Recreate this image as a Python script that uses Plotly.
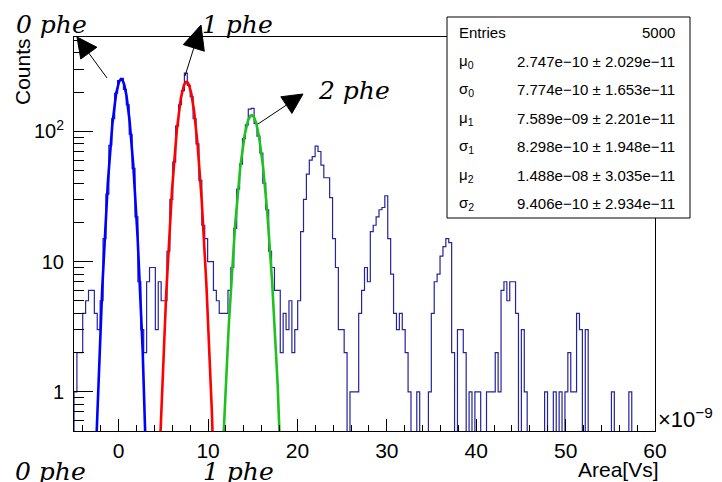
import numpy as np
import plotly.graph_objects as go

# ---- histogram of pulse area (x in units of 1e-9 Vs) ----
area_min = -5.0
area_max = 60.0
n_bins = 200
counts = [
    1, 2, 2, 4, 5, 6, 6, 4, 3, 5,
    15, 33, 78, 125, 196, 245, 255, 210, 160, 95,
    52, 22, 7, 3, 2, 7, 9, 9, 3, 7,
    5, 5, 12, 30, 58, 110, 160, 205, 280, 225,
    185, 125, 80, 42, 19, 15, 10, 10, 6, 5,
    4, 4, 4, 6, 9, 18, 36, 56, 88, 112,
    148, 150, 115, 92, 68, 40, 25, 12, 9, 6,
    6, 2, 4, 3, 5, 2, 3, 5, 17, 30,
    47, 60, 64, 77, 70, 55, 44, 44, 31, 15,
    9, 3, 3, 2, 0, 1, 1, 1, 4, 6,
    9, 7, 17, 19, 22, 25, 26, 32, 15, 8,
    4, 3, 4, 3, 2, 1, 0, 0, 1, 0,
    0, 0, 1, 4, 7, 8, 11, 13, 15, 14,
    2, 0, 3, 3, 2, 0, 1, 0, 1, 1,
    0, 0, 1, 1, 1, 2, 1, 6, 7, 5,
    7, 7, 4, 0, 3, 1, 0, 0, 0, 0,
    0, 0, 1, 0, 0, 1, 0, 1, 0, 1,
    2, 1, 1, 4, 3, 0, 3, 0, 0, 0,
    0, 0, 0, 0, 0, 1, 0, 0, 0, 0,
    0, 1, 0, 0, 0, 0, 0, 0, 0, 0,
]
entries = 5000
x_unit = 1e-9

# ---- Gaussian fits of the 0, 1 and 2 phe peaks (values in Vs) ----
fit_mu = [2.747e-10, 7.589e-09, 1.488e-08]
fit_mu_err = [2.029e-11, 2.201e-11, 3.035e-11]
fit_sigma = [7.774e-10, 8.298e-10, 9.406e-10]
fit_sigma_err = [1.653e-11, 1.948e-11, 2.934e-11]
fit_amplitude = [252.0, 240.0, 133.0]
fit_colors = ["#0000ff", "#ff0000", "#1fc11f"]

# ---- axis ticks ----
x_major = [0, 10, 20, 30, 40, 50, 60]
x_minor = [v for v in range(-4, 60, 2) if v % 10 != 0]
y_major = [1, 10, 100]
y_major_text = ["1", "10", "10<sup>2</sup>"]
y_minor = [0.6, 0.7, 0.8, 0.9, 2, 3, 4, 5, 6, 7, 8, 9,
           20, 30, 40, 50, 60, 70, 80, 90, 200, 300, 400, 500]
y_min, y_max = 0.5, 530.0

# ---- page geometry (pixels) ----
W, H = 722, 482
L, R, T, B = 74, 655, 37, 431


def px(xp):
    return (xp - L) / (R - L)


def py(yp):
    return (B - yp) / (B - T)


SANS = "Liberation Sans, Arial, sans-serif"
SERIF = "DejaVu Serif, serif"

fig = go.Figure()

# histogram outline; empty bins fall below the frame
edges = np.linspace(area_min, area_max, n_bins + 1)
floor = 0.05
heights = [c if c > 0 else floor for c in counts]
hx = [edges[0]] + list(edges[:-1]) + [edges[-1]]
hy = [floor] + heights + [floor]
fig.add_trace(go.Scatter(
    x=hx, y=hy, mode="lines", line=dict(color="#24249c", width=1.2, shape="hv"),
    hoverinfo="skip", showlegend=False))

# fitted Gaussians
for a, m, s, col in zip(fit_amplitude, fit_mu, fit_sigma, fit_colors):
    m_u, s_u = m / x_unit, s / x_unit
    gx = np.linspace(m_u - 5 * s_u, m_u + 5 * s_u, 500)
    gy = a * np.exp(-0.5 * ((gx - m_u) / s_u) ** 2)
    fig.add_trace(go.Scatter(x=gx, y=gy, mode="lines",
                             line=dict(color=col, width=2.6),
                             hoverinfo="skip", showlegend=False))

shapes = []
annotations = []

# statistics box
box = (447, 17, 690, 218)
shapes.append(dict(type="rect", xref="paper", yref="paper", layer="above",
                   x0=px(box[0]), x1=px(box[2]), y0=py(box[3]), y1=py(box[1]),
                   line=dict(color="black", width=1), fillcolor="white"))


def sci(v):
    return f"{v:.3e}".replace("-", "\u2212")


stat_rows = [("Entries", str(entries))]
for i in range(3):
    stat_rows.append((f"\u03bc<sub>{i}</sub>", f"{sci(fit_mu[i])} \u00b1 {sci(fit_mu_err[i])}"))
    stat_rows.append((f"\u03c3<sub>{i}</sub>", f"{sci(fit_sigma[i])} \u00b1 {sci(fit_sigma_err[i])}"))

row_y0, row_step = 33, 28.4
for i, (lab, val) in enumerate(stat_rows):
    yy = py(row_y0 + i * row_step)
    annotations.append(dict(text=lab, x=px(457), y=yy, xref="paper", yref="paper",
                            xanchor="left", yanchor="middle", showarrow=False,
                            font=dict(family=SANS, size=15, color="black")))
    annotations.append(dict(text=val, x=px(677), y=yy, xref="paper", yref="paper",
                            xanchor="right", yanchor="middle", showarrow=False,
                            font=dict(family=SANS, size=15, color="black")))

# axis titles and exponent
annotations.append(dict(text="Counts", x=px(22), y=py(72), xref="paper", yref="paper",
                        textangle=-90, xanchor="center", yanchor="middle", showarrow=False,
                        font=dict(family=SANS, size=21, color="black")))
annotations.append(dict(text="Area[Vs]", x=px(661), y=py(469), xref="paper", yref="paper",
                        xanchor="right", yanchor="middle", showarrow=False,
                        font=dict(family=SANS, size=21, color="black")))
annotations.append(dict(text="\u00d710<sup>\u22129</sup>", x=px(656), y=py(418),
                        xref="paper", yref="paper", xanchor="left", yanchor="middle",
                        showarrow=False, font=dict(family=SANS, size=22, color="black")))

# photo-electron labels
phe_labels = [("0 phe", 51, 24), ("1 phe", 237, 24), ("2 phe", 354, 91),
              ("0 phe", 50, 472), ("1 phe", 238, 472)]
for txt, cx, cy in phe_labels:
    annotations.append(dict(text=f"<i>{txt}</i>", x=px(cx), y=py(cy), xref="paper",
                            yref="paper", xanchor="center", yanchor="middle",
                            showarrow=False,
                            font=dict(family=SERIF, size=25, color="black")))

# arrows pointing from the peaks to their labels: (tail, tip, head length, half width)
arrows = [((107, 78), (77, 37), 20, 10),
          ((185, 76), (201, 25), 24, 11),
          ((258, 124), (303, 94), 20, 10)]
for (tx, ty), (hx_, hy_), hl, hw in arrows:
    dx, dy = hx_ - tx, hy_ - ty
    n = np.hypot(dx, dy)
    ux, uy = dx / n, dy / n
    bx, by = hx_ - ux * hl, hy_ - uy * hl
    p1 = (bx - uy * hw, by + ux * hw)
    p2 = (bx + uy * hw, by - ux * hw)
    shapes.append(dict(type="line", xref="paper", yref="paper", layer="above",
                       x0=px(tx), y0=py(ty), x1=px(bx), y1=py(by),
                       line=dict(color="black", width=1)))
    path = (f"M {px(hx_)},{py(hy_)} L {px(p1[0])},{py(p1[1])} "
            f"L {px(p2[0])},{py(p2[1])} Z")
    shapes.append(dict(type="path", xref="paper", yref="paper", layer="above",
                       path=path, fillcolor="black", line=dict(color="black", width=1)))

fig.update_layout(
    width=W, height=H,
    margin=dict(l=L, r=W - R, t=T, b=H - B, pad=0),
    paper_bgcolor="white", plot_bgcolor="white",
    showlegend=False,
    shapes=shapes, annotations=annotations,
    xaxis=dict(range=[area_min, area_max], showgrid=False, zeroline=False,
               showline=True, mirror=True, linecolor="black", linewidth=1,
               ticks="inside", ticklen=12, tickcolor="black", tickwidth=1,
               tickvals=x_major, ticktext=[str(v) for v in x_major],
               tickfont=dict(family=SANS, size=21, color="black"),
               ticklabelstandoff=1,
               minor=dict(ticks="inside", ticklen=6, tickcolor="black",
                          tickwidth=1, tickvals=x_minor)),
    yaxis=dict(type="log", range=[np.log10(y_min), np.log10(y_max)],
               showgrid=False, zeroline=False,
               showline=True, mirror=True, linecolor="black", linewidth=1,
               ticks="inside", ticklen=19, tickcolor="black", tickwidth=1,
               tickvals=y_major, ticktext=y_major_text,
               tickfont=dict(family=SANS, size=20, color="black"),
               ticklabelstandoff=5,
               minor=dict(ticks="inside", ticklen=10, tickcolor="black",
                          tickwidth=1, tickvals=y_minor)),
)

fig.write_html("out.html")
